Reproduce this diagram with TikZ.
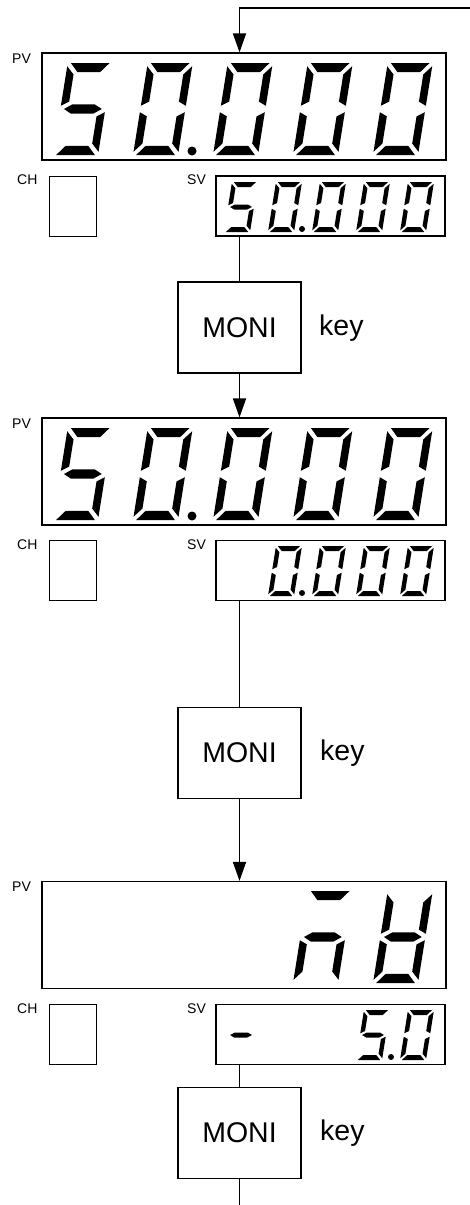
\documentclass[tikz,border=0pt]{standalone}
\usepackage{fontspec}
\setmainfont{Liberation Sans}
\usetikzlibrary{arrows.meta}

% segments of one lcd digit, 10 wide and 20 high
\def\lcdsega{(0.7,20) -- (9.3,20) -- (7.5,18) -- (2.5,18) -- cycle}
\def\lcdsegb{(10,19.3) -- (8.3,17.5) -- (8.3,11.6) -- (10,10.7) -- cycle}
\def\lcdsegc{(10,0.7) -- (8.3,2.5) -- (8.3,8.4) -- (10,9.3) -- cycle}
\def\lcdsegd{(0.7,0) -- (9.3,0) -- (7.5,2) -- (2.5,2) -- cycle}
\def\lcdsege{(0,0.7) -- (1.7,2.5) -- (1.7,8.4) -- (0,9.3) -- cycle}
\def\lcdsegf{(0,19.3) -- (1.7,17.5) -- (1.7,11.6) -- (0,10.7) -- cycle}
\def\lcdsegg{(0.8,10) -- (2.5,11) -- (7.5,11) -- (9.2,10) -- (7.5,9) -- (2.5,9) -- cycle}

% \lcddigit{x}{y}{xscale}{yscale}{segments}, (x,y) = lower left corner
\newcommand{\lcddigit}[5]{%
  \begin{scope}[shift={(#1,#2)},xslant=0.16,xscale=#3,yscale=#4]
    \foreach \s in {#5}{\expandafter\fill\csname lcdseg\s\endcsname;}
  \end{scope}}

\begin{document}
\begin{tikzpicture}[x=1pt,y=1pt]
  \tikzstyle{pv}=[draw,line width=1.2pt,minimum width=404pt,minimum height=107pt,inner sep=0pt]
  \tikzstyle{ch}=[draw,line width=1pt,minimum width=47pt,minimum height=60pt,inner sep=0pt]
  \tikzstyle{sv}=[draw,line width=1.2pt,minimum width=229pt,minimum height=60pt,inner sep=0pt]
  \tikzstyle{moni}=[draw,line width=1.8pt,minimum width=123pt,minimum height=91pt,inner sep=0pt,font=\fontsize{28.5}{34}\selectfont]
  \tikzstyle{tag}=[anchor=base west,inner sep=0pt,font=\fontsize{14}{16}\selectfont]
  \tikzstyle{keytext}=[anchor=base west,inner sep=0pt,font=\fontsize{28.5}{34}\selectfont]
  \tikzstyle{flow}=[line width=1.7pt,-{Triangle[length=19pt,width=13pt]}]
  \tikzstyle{wire}=[line width=1.7pt]

  \useasboundingbox (0,0) rectangle (470,-1205);

  % first step
  \node[pv] (pv1) at (244,-106.5) {};
  \node[ch] (ch1) at (72.5,-206) {};
  \node[sv] (sv1) at (330.5,-206) {};
  \node[tag] (pvt1) at (12,-63) {PV};
  \node[tag] (cht1) at (17,-184.5) {CH};
  \node[tag] (svt1) at (187,-184.5) {SV};
  \node[moni] (moni1) at (239.5,-327.5) {MONI};
  \node[keytext] (key1) at (319,-335) {key};

  \lcddigit{53}{-155}{4.5}{4.6}{a,f,g,c,d}
  \lcddigit{133}{-155}{4.5}{4.6}{a,b,c,d,e,f}
  \fill (192,-151) circle (4.5);
  \foreach \x in {213,293,373} \lcddigit{\x}{-155}{4.5}{4.6}{a,b,c,d,e,f};

  \lcddigit{224}{-232}{2.6}{2.5}{a,f,g,c,d}
  \lcddigit{268}{-232}{2.6}{2.5}{a,b,c,d,e,f}
  \fill (302,-229) circle (3);
  \foreach \x in {312,356,400} \lcddigit{\x}{-232}{2.6}{2.5}{a,b,c,d,e,f};

  % second step
  \node[pv] (pv2) at (244,-471.5) {};
  \node[ch] (ch2) at (72.5,-570.5) {};
  \node[sv] (sv2) at (330.5,-570.5) {};
  \node[tag] (pvt2) at (12,-428) {PV};
  \node[tag] (cht2) at (17,-549) {CH};
  \node[tag] (svt2) at (187,-549) {SV};
  \node[moni] (moni2) at (239.5,-753) {MONI};
  \node[keytext] (key2) at (320,-760.5) {key};

  \lcddigit{53}{-520}{4.5}{4.6}{a,f,g,c,d}
  \lcddigit{133}{-520}{4.5}{4.6}{a,b,c,d,e,f}
  \fill (192,-516) circle (4.5);
  \foreach \x in {213,293,373} \lcddigit{\x}{-520}{4.5}{4.6}{a,b,c,d,e,f};

  \lcddigit{268}{-596}{2.6}{2.5}{a,b,c,d,e,f}
  \fill (302,-593) circle (3);
  \foreach \x in {312,356,400} \lcddigit{\x}{-596}{2.6}{2.5}{a,b,c,d,e,f};

  % third step
  \node[pv] (pv3) at (244,-935) {};
  \node[ch] (ch3) at (72.5,-1034.5) {};
  \node[sv] (sv3) at (330.5,-1034.5) {};
  \node[tag] (pvt3) at (12,-891.5) {PV};
  \node[tag] (cht3) at (17,-1013) {CH};
  \node[tag] (svt3) at (187,-1013) {SV};
  \node[moni] (moni3) at (239.5,-1133) {MONI};
  \node[keytext] (key3) at (320,-1140.5) {key};

  \lcddigit{293}{-983}{4.5}{4.6}{a,c,e,g}
  \lcddigit{373}{-983}{4.5}{4.6}{b,c,d,e,f,g}

  \lcddigit{224}{-1060}{2.6}{2.5}{g}
  \lcddigit{356}{-1060}{2.6}{2.5}{a,f,g,c,d}
  \fill (391,-1057) circle (3);
  \lcddigit{400}{-1060}{2.6}{2.5}{a,b,c,d,e,f}

  % connectors
  \coordinate (ret) at (470,-8);
  \coordinate (out) at (239.5,-1205);
  \draw[flow] (ret) -| (pv1.north -| moni1.north);
  \draw[wire] (sv1.south -| moni1.north) -- (moni1.north);
  \draw[flow] (moni1.south) -- (pv2.north -| moni1.south);
  \draw[wire] (sv2.south -| moni2.north) -- (moni2.north);
  \draw[flow] (moni2.south) -- (pv3.north -| moni2.south);
  \draw[wire] (sv3.south -| moni3.north) -- (moni3.north);
  \draw[wire] (moni3.south) -- (out);
\end{tikzpicture}
\end{document}
